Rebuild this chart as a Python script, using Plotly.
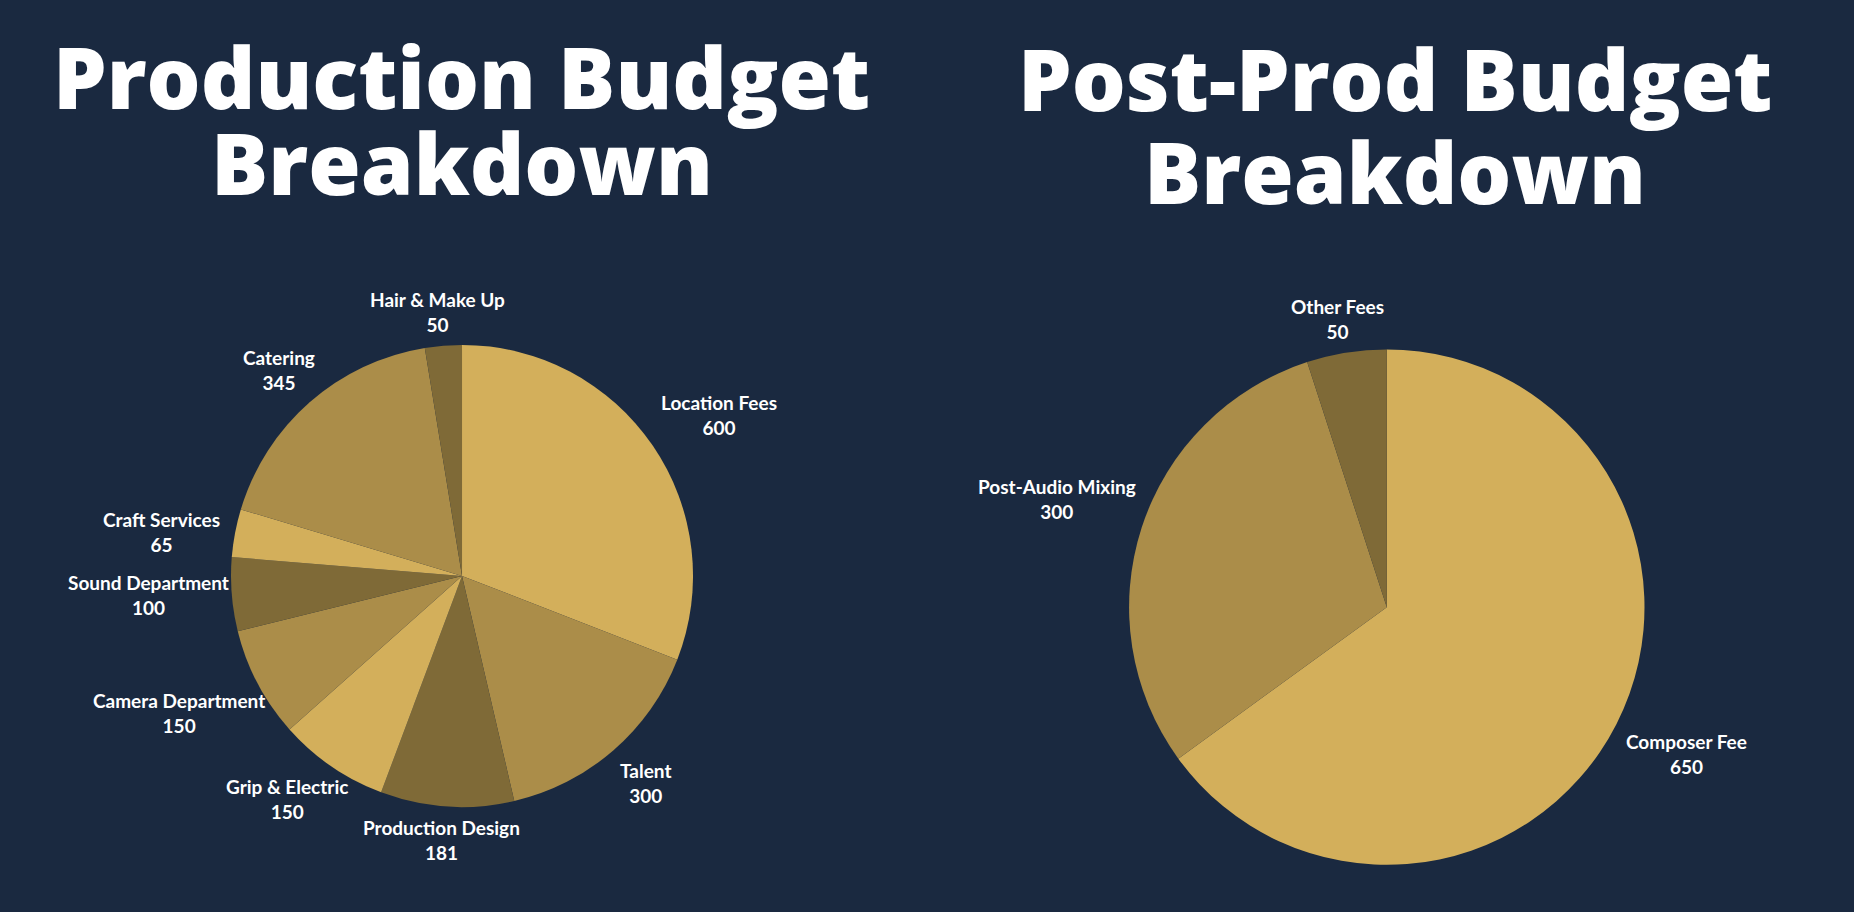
import math
import plotly.graph_objects as go

# production budget, clockwise from 12 o'clock
prod_labels = ["Location Fees", "Talent", "Production Design", "Grip & Electric",
               "Camera Department", "Sound Department", "Craft Services",
               "Catering", "Hair & Make Up"]
prod_values = [600, 300, 181, 150, 150, 100, 65, 345, 50]

# post-production budget
post_labels = ["Composer Fee", "Post-Audio Mixing", "Other Fees"]
post_values = [650, 300, 50]

W, H = 1854, 912
bg = "#1a2940"
gold = ["#d3af5b", "#ab8d49", "#7f6a37"]
label_font = dict(family="Lato", size=19, color="white", weight="bold")
title_font = dict(family="Open Sans", size=85, color="white", weight=800)

prod_domain = dict(x=[0.1246, 0.3738], y=[0.115, 0.622])
post_domain = dict(x=[0.609, 0.887], y=[0.0515, 0.617])


def slice_labels(fig, labels, values, domain, gap=8):
    '''Put "name / value" labels just outside the middle of each slice.'''
    x0, x1 = domain["x"][0] * W, domain["x"][1] * W
    y0, y1 = (1 - domain["y"][1]) * H, (1 - domain["y"][0]) * H
    cx, cy = (x0 + x1) / 2, (y0 + y1) / 2
    r = min(x1 - x0, y1 - y0) / 2
    total = sum(values)
    start = 0
    for name, v in zip(labels, values):
        ang = 2 * math.pi * (start + v / 2) / total
        start += v
        dx, dy = math.sin(ang), -math.cos(ang)
        px, py = cx + (r + gap) * dx, cy + (r + gap) * dy
        yanchor = "top" if dy > 0.3 else ("bottom" if dy < -0.3 else "middle")
        if dx > 0.3:
            xanchor, lx = "left", px
        else:
            # rough half width of the label, slid sideways away from the pie
            half_w = len(name) * 0.5 * label_font["size"] / 2
            xanchor, lx = "center", px + dx * half_w
        fig.add_annotation(text=f"{name}<br>{v}", x=lx / W, y=1 - py / H,
                           xref="paper", yref="paper", showarrow=False,
                           xanchor=xanchor, yanchor=yanchor, align="center",
                           font=label_font)


fig = go.Figure()

fig.add_trace(go.Pie(
    labels=prod_labels, values=prod_values,
    marker=dict(colors=[gold[i % 3] for i in range(len(prod_values))]),
    sort=False, direction="clockwise", rotation=0,
    textinfo="none", showlegend=False, hoverinfo="label+value",
    domain=prod_domain,
))

fig.add_trace(go.Pie(
    labels=post_labels, values=post_values,
    marker=dict(colors=gold),
    sort=False, direction="clockwise", rotation=0,
    textinfo="none", showlegend=False, hoverinfo="label+value",
    domain=post_domain,
))

slice_labels(fig, prod_labels, prod_values, prod_domain)
slice_labels(fig, post_labels, post_values, post_domain)

# title lines: text, x centre (paper), y centre (px from top)
titles = [
    ("Production Budget", 0.249, 76),
    ("Breakdown", 0.249, 162),
    ("Post-Prod Budget", 0.7525, 78),
    ("Breakdown", 0.7525, 171),
]
for text, x, ypx in titles:
    fig.add_annotation(text=text, x=x, y=1 - ypx / H, xref="paper", yref="paper",
                       xanchor="center", yanchor="middle", showarrow=False,
                       font=title_font)

fig.update_layout(
    width=W, height=H,
    margin=dict(l=0, r=0, t=0, b=0),
    paper_bgcolor=bg, plot_bgcolor=bg,
)

fig.write_html("out.html", config={"displayModeBar": False},
               post_script="document.body.style.margin='0';"
                           "document.body.style.background='" + bg + "';")
